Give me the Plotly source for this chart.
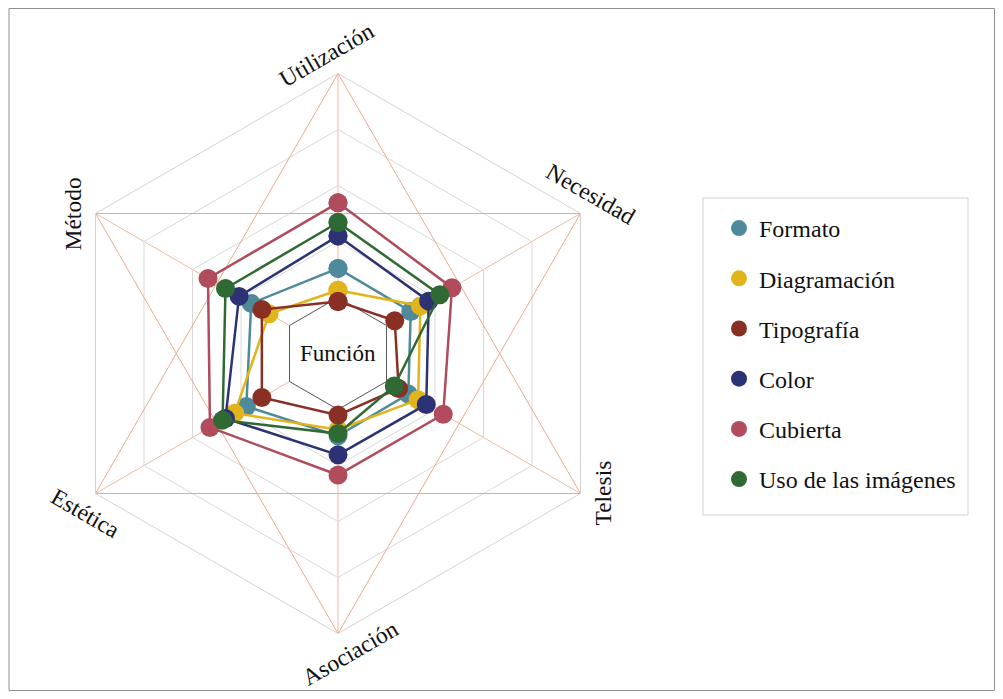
import math
import plotly.graph_objects as go

# ---------------- data ----------------
categories = ["Utilización", "Necesidad", "Telesis", "Asociación", "Estética", "Método"]
series_names = ["Formato", "Diagramación", "Tipografía", "Color", "Cubierta", "Uso de las imágenes"]
formato      = [1.52, 1.50, 1.45, 1.47, 1.89, 1.79]
diagramacion = [1.13, 1.70, 1.65, 1.36, 2.13, 1.42]
tipografia   = [0.93, 1.17, 1.25, 1.10, 1.57, 1.57]
color_vals   = [2.10, 1.87, 1.82, 1.81, 2.32, 2.04]
cubierta     = [2.69, 2.35, 2.17, 2.17, 2.64, 2.68]
uso_imagenes = [2.34, 2.10, 1.16, 1.43, 2.38, 2.32]
center_label = "Función"
ring_values = [1, 2, 3, 4, 5]

# ---------------- style ----------------
series_colors = ["#4F8A9B", "#E2B41C", "#8A2F24", "#2D3274", "#B04C5B", "#2F6933"]
OFF = 8                       # page body margin
W, H = 1003 - 2 * OFF, 699 - 2 * OFF
CX, CY, R = 338 - OFF, 353.5 - OFF, 280
RMAX = 5
FONT = "Liberation Serif"

values = [formato, diagramacion, tipografia, color_vals, cubierta, uso_imagenes]
theta_closed = categories + categories[:1]

fig = go.Figure()

# inner "Función" hexagon (white fill hides spokes)
fig.add_trace(go.Scatterpolar(
    r=[ring_values[0]] * 7, theta=theta_closed, mode="lines",
    line=dict(color="#5a5a5a", width=1), fill="toself", fillcolor="white",
    showlegend=False, hoverinfo="skip"))

# star made of two triangles
for tri in (categories[0::2], categories[1::2]):
    fig.add_trace(go.Scatterpolar(
        r=[RMAX] * 4, theta=tri + tri[:1], mode="lines",
        line=dict(color="#EBA98A", width=1), showlegend=False, hoverinfo="skip"))

# data series
for name, vals, col in zip(series_names, values, series_colors):
    fig.add_trace(go.Scatterpolar(
        r=vals + vals[:1], theta=theta_closed, mode="lines+markers", name=name,
        line=dict(color=col, width=2.5), marker=dict(color=col, size=19),
        showlegend=False))

# legend-only marker entries
for i, (name, col) in enumerate(zip(series_names, series_colors)):
    fig.add_trace(go.Scatterpolar(
        r=[None], theta=[categories[0]], mode="markers", name=name,
        marker=dict(color=col, size=16), legendgroup=f"g{i}", showlegend=True))

# axis labels as rotated annotations
annotations = [dict(
    x=CX / W, y=1 - CY / H, xref="paper", yref="paper", text=center_label,
    showarrow=False, xanchor="center", yanchor="middle",
    font=dict(family=FONT, size=23, color="#111"))]
n = len(categories)
for i, cat in enumerate(categories):
    th = 90 - i * 360 / n
    rad = math.radians(th)
    d, t = 19, 12
    px = CX + (R + d) * math.cos(rad) + t * (-math.sin(rad))
    py = CY - (R + d) * math.sin(rad) - t * (math.cos(rad))
    ang = -(th - 60)
    while ang >= 90:
        ang -= 180
    while ang < -90:
        ang += 180
    annotations.append(dict(
        x=px / W, y=1 - py / H, xref="paper", yref="paper", text=cat,
        showarrow=False, textangle=ang, xanchor="center", yanchor="middle",
        font=dict(family=FONT, size=23.5, color="#111")))

shapes = [
    dict(type="rect", xref="paper", yref="paper", x0=(703 - OFF) / W, x1=(968 - OFF) / W,
         y0=1 - (515 - OFF) / H, y1=1 - (198 - OFF) / H, line=dict(color="#D2D2D2", width=1)),
    dict(type="rect", xref="paper", yref="paper", x0=1 / W, x1=1 - 0.5 / W,
         y0=0.5 / H, y1=1 - 0.5 / H, line=dict(color="#8F8F8F", width=1)),
]

fig.update_layout(
    width=W, height=H, margin=dict(l=0, r=0, t=0, b=0),
    paper_bgcolor="white", plot_bgcolor="white",
    font=dict(family=FONT, color="#111"),
    polar=dict(
        domain=dict(x=[(CX - R) / W, (CX + R) / W], y=[(H - CY - R) / H, (H - CY + R) / H]),
        gridshape="linear", bgcolor="white",
        radialaxis=dict(range=[0, RMAX], tickvals=ring_values, showticklabels=False,
                        ticks="", showline=False, gridcolor="#D9D9D9", gridwidth=1),
        angularaxis=dict(rotation=90, direction="clockwise", showticklabels=False,
                         ticks="", gridcolor="#EDBBA2", linecolor="#D3D3D3", linewidth=1),
    ),
    legend=dict(x=(719 - OFF) / W, y=1 - (206 - OFF) / H, xanchor="left", yanchor="top",
                bgcolor="rgba(0,0,0,0)", borderwidth=0, tracegroupgap=16,
                font=dict(family=FONT, size=24, color="#111"), itemsizing="trace"),
    annotations=annotations, shapes=shapes, showlegend=True,
)

fig.write_html("out.html")
